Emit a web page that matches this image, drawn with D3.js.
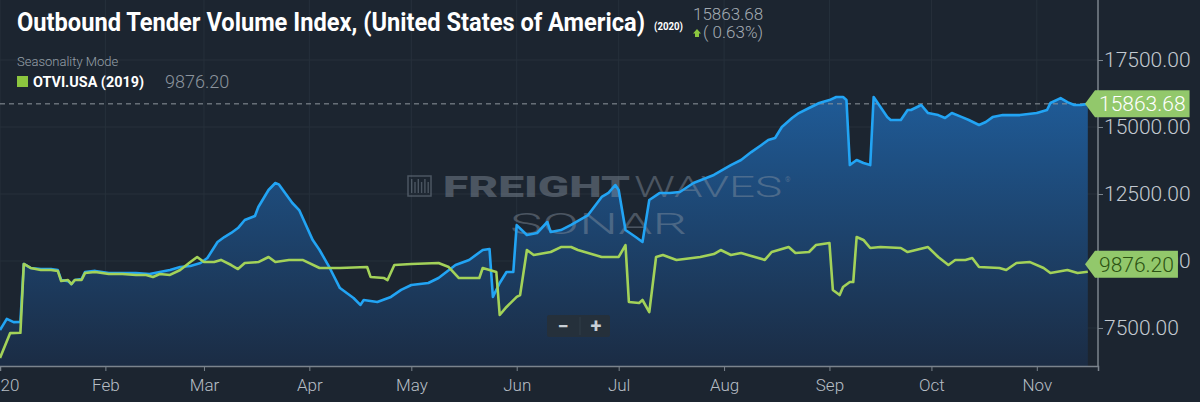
<!DOCTYPE html>
<html>
<head>
<meta charset="utf-8">
<script src="https://cdn.jsdelivr.net/npm/d3@7"></script>
<style>
  body { margin: 0; background: #1c2530; }
  svg { display: block; font-family: Roboto, "Noto Sans", sans-serif; }
</style>
</head>
<body>
<div id="chart"></div>
<script>
/* CANVAS */
const width = 1200;
const height = 402;
const plot = {left: 0, right: 1098, top: 0, bottom: 366};

/* DATA */
const dates2020 = ["01-01","01-03","01-05","01-07","01-08","01-10","01-13","01-16","01-18","01-19","01-21","01-22","01-23","01-25","01-26","01-29",
  "02-02","02-06","02-10","02-14","02-17","02-20","02-23","02-26","02-29",
  "03-02","03-05","03-07","03-09","03-11","03-13","03-16","03-17","03-20","03-22","03-23","03-27","03-29",
  "04-02","04-04","04-07","04-10","04-14","04-16","04-17","04-21","04-25","04-28",
  "05-01","05-06","05-09","05-14","05-18","05-22","05-24","05-25","05-27","05-29","05-31",
  "06-01","06-04","06-07","06-10","06-11","06-14","06-17","06-22","06-26","06-28","06-30",
  "07-01","07-03","07-06","07-08","07-10","07-13","07-16","07-19","07-23","07-29",
  "08-03","08-06","08-09","08-12","08-14","08-16","08-18","08-21","08-23","08-26","08-29",
  "09-01","09-03","09-05","09-06","09-07","09-09","09-11","09-13","09-14","09-16","09-18","09-19","09-22","09-24","09-25","09-28","09-30",
  "10-03","10-05","10-07","10-10","10-12","10-15","10-17","10-19","10-22","10-27",
  "11-01","11-04","11-05","11-08","11-10","11-12","11-14","11-16"];
const values2020 = [7425,7840,7720,7730,9890,9740,9700,9700,9660,9290,9250,9140,9290,9330,9590,9630,
  9550,9550,9550,9515,9590,9665,9775,9815,9925,
  10110,10710,10895,11045,11230,11530,11680,12015,12650,12910,12860,12165,11900,
  10780,10410,9740,8990,8620,8360,8545,8470,8660,8920,
  9105,9180,9365,9850,10040,10410,10450,8660,9180,9590,9590,
  11340,10970,11045,11455,11080,11155,11345,11715,12390,12540,12835,
  12650,11155,10895,10710,12275,12535,12535,12575,12910,13210,
  13580,13770,14065,14330,14515,14590,15000,15335,15520,15710,15895,
  16005,16120,16120,16005,13580,13770,13655,13580,16120,15745,15370,15260,15260,15635,15635,15820,15520,
  15445,15335,15520,15370,15260,15075,15185,15370,15445,15445,
  15520,15635,15895,16080,15930,15820,15820,15863.68];

const dates2019 = ["01-01","01-04","01-07","01-08","01-10","01-13","01-16","01-18","01-19","01-21","01-22","01-23","01-25","01-26","01-29",
  "02-02","02-06","02-10","02-13","02-15","02-17","02-20","02-23","02-26","02-28",
  "03-01","03-04","03-06","03-09","03-11","03-13","03-17","03-20","03-22","03-26","03-30",
  "04-04","04-10","04-18","04-19","04-23","04-24","04-26",
  "05-01","05-09","05-12","05-15","05-21","05-22","05-26","05-27","05-29",
  "06-01","06-02","06-04","06-06","06-11","06-14","06-17","06-19","06-26",
  "07-01","07-03","07-04","07-07","07-08","07-10","07-12","07-14","07-18","07-25","07-29","07-31",
  "08-03","08-06","08-08","08-13","08-15","08-20","08-22","08-26","08-28",
  "09-01","09-02","09-04","09-05","09-07","09-08","09-09","09-11","09-13","09-16","09-22","09-24","09-30",
  "10-03","10-06","10-08","10-11","10-13","10-15","10-21","10-23","10-26","10-30",
  "11-03","11-05","11-10","11-13","11-16"];
const values2019 = [6380,7310,7320,9890,9740,9665,9665,9630,9255,9290,9140,9290,9290,9550,9590,
  9515,9515,9480,9480,9405,9515,9480,9665,9960,10150,
  9960,9960,10040,9850,9700,9925,9960,10150,9960,10040,10040,
  9740,9740,9775,9405,9365,9290,9850,
  9890,9925,9775,9365,9365,9740,9590,7985,8285,
  8660,8730,10410,10225,10335,10520,10520,10410,10150,
  10150,10595,8470,8435,8545,8095,10150,10225,10040,10150,10260,10410,
  10225,10300,10225,10040,10335,10520,10300,10335,10595,
  10670,8920,8730,9030,9215,9215,10895,10785,10485,10520,10485,10335,10520,
  10150,9850,10040,10040,10110,9775,9740,9665,9925,9960,
  9740,9550,9665,9550,9600];

const yTicks = [7500, 10000, 12500, 15000, 17500];
const last2020 = 15863.68;
const last2019 = 9876.20;
const change2020 = "( 0.63%)";

const parse = d3.timeParse("%Y-%m-%d");
const series2020 = dates2020.map((d, i) => ({date: parse("2020-" + d), value: values2020[i]}));
const series2019 = dates2019.map((d, i) => ({date: parse("2020-" + d), value: values2019[i]}));

/* SCALES */
const x = d3.scaleTime()
  .domain([new Date(2020, 0, 1), new Date(2020, 10, 19)])
  .range([plot.left, plot.right]);

const y = d3.scaleLinear()
  .domain([6082, 19739])
  .range([plot.bottom, plot.top]);

/* SVG */
const svg = d3.select("#chart")
  .append("svg")
  .attr("width", width)
  .attr("height", height);

svg.append("rect").attr("width", width).attr("height", height).attr("fill", "#1c2530");

const defs = svg.append("defs");
const grad = defs.append("linearGradient")
  .attr("id", "areaGrad")
  .attr("gradientUnits", "userSpaceOnUse")
  .attr("x1", 0).attr("y1", y(16200))
  .attr("x2", 0).attr("y2", plot.bottom);
grad.append("stop").attr("offset", 0).attr("stop-color", "#1f5b97");
grad.append("stop").attr("offset", 1).attr("stop-color", "#1b2c44");

defs.append("clipPath").attr("id", "plotClip")
  .append("rect").attr("x", plot.left).attr("y", plot.top)
  .attr("width", plot.right - plot.left).attr("height", plot.bottom - plot.top);

/* GRID */
const months = x.ticks(d3.timeMonth.every(1));
svg.append("g").selectAll("line").data(months).join("line")
  .attr("x1", d => x(d)).attr("x2", d => x(d))
  .attr("y1", plot.top).attr("y2", plot.bottom)
  .attr("stroke", "#26303b").attr("stroke-width", 1);
svg.append("g").selectAll("line").data(yTicks).join("line")
  .attr("x1", plot.left).attr("x2", plot.right)
  .attr("y1", d => y(d)).attr("y2", d => y(d))
  .attr("stroke", "#26303b").attr("stroke-width", 1);

/* MARKS */
const area = d3.area()
  .x(d => x(d.date))
  .y0(plot.bottom)
  .y1(d => y(d.value));
const line = d3.line()
  .x(d => x(d.date))
  .y(d => y(d.value));

const marks = svg.append("g").attr("clip-path", "url(#plotClip)");
marks.append("path").datum(series2020)
  .attr("d", area)
  .attr("fill", "url(#areaGrad)");

/* WATERMARK (over the area, under the lines) */
const wm = svg.append("g").attr("fill", "#8c98a5").attr("opacity", 0.42);
wm.append("rect").attr("x", 408).attr("y", 176).attr("width", 23).attr("height", 20)
  .attr("fill", "none").attr("stroke", "#8c98a5").attr("stroke-width", 1.5);
d3.range(6).forEach(i => {
  wm.append("rect").attr("x", 411 + i * 3.3).attr("y", 179 + (i % 2) * 3)
    .attr("width", 1.4).attr("height", 14 - (i % 2) * 3);
});
wm.append("text").attr("x", 443).attr("y", 197)
  .attr("font-size", 29).attr("font-weight", 900)
  .attr("textLength", 187).attr("lengthAdjust", "spacingAndGlyphs")
  .text("FREIGHT");
wm.append("text").attr("x", 634).attr("y", 197)
  .attr("font-size", 29).attr("font-weight", 300)
  .attr("textLength", 148).attr("lengthAdjust", "spacingAndGlyphs")
  .text("WAVES");
wm.append("text").attr("x", 785).attr("y", 182).attr("font-size", 7).text("®");
wm.append("text").attr("x", 510).attr("y", 234)
  .attr("font-size", 30).attr("font-weight", 300)
  .attr("textLength", 177).attr("lengthAdjust", "spacingAndGlyphs")
  .text("SONAR");

// dashed level of the latest 2020 value
marks.append("line")
  .attr("x1", plot.left).attr("x2", plot.right)
  .attr("y1", y(last2020)).attr("y2", y(last2020))
  .attr("stroke", "#8f969d").attr("stroke-dasharray", "5,4").attr("stroke-width", 1);

const lines = svg.append("g").attr("clip-path", "url(#plotClip)");
lines.append("path").datum(series2020)
  .attr("d", line)
  .attr("fill", "none")
  .attr("stroke", "#22a4f4")
  .attr("stroke-width", 2.6)
  .attr("stroke-linejoin", "round");

lines.append("path").datum(series2019)
  .attr("d", line)
  .attr("fill", "none")
  .attr("stroke", "#a3d259")
  .attr("stroke-width", 2.6)
  .attr("stroke-linejoin", "round");

/* ZOOM BUTTONS */
const zb = svg.append("g");
zb.append("rect").attr("x", 547).attr("y", 315).attr("width", 63).attr("height", 22)
  .attr("fill", "#25303b").attr("rx", 2);
zb.append("line").attr("x1", 580).attr("x2", 580).attr("y1", 317).attr("y2", 335)
  .attr("stroke", "#313c48");
zb.append("text").attr("x", 563).attr("y", 333).attr("text-anchor", "middle")
  .attr("font-size", 20).attr("font-weight", 700).attr("fill", "#c8cfd6").text("−");
zb.append("text").attr("x", 596).attr("y", 333).attr("text-anchor", "middle")
  .attr("font-size", 20).attr("font-weight", 700).attr("fill", "#c8cfd6").text("+");

/* AXES */
const xAxis = svg.append("g")
  .attr("transform", `translate(0,${plot.bottom})`)
  .call(d3.axisBottom(x)
    .ticks(d3.timeMonth.every(1))
    .tickSizeOuter(0)
    .tickSize(5)
    .tickFormat(d => d.getMonth() === 0 ? d3.timeFormat("%Y")(d) : d3.timeFormat("%b")(d)));
xAxis.select(".domain").attr("stroke", "#7b848d").attr("stroke-width", 1.5);
xAxis.selectAll(".tick line").attr("stroke", "#7b848d");
xAxis.selectAll(".tick text")
  .attr("y", 13)
  .attr("font-family", "Roboto, sans-serif")
  .attr("font-size", 17)
  .attr("font-weight", 300)
  .attr("fill", "#b7bec5");

const yAxis = svg.append("g")
  .attr("transform", `translate(${plot.right},0)`)
  .call(d3.axisRight(y)
    .tickValues(yTicks)
    .tickSize(5)
    .tickSizeOuter(0)
    .tickFormat(d3.format(".2f")));
yAxis.select(".domain").attr("stroke", "#7b848d").attr("stroke-width", 1.5)
  .attr("d", `M0,${plot.top}V${plot.bottom}`);
yAxis.selectAll(".tick line").attr("stroke", "#7b848d");
yAxis.selectAll(".tick text")
  .attr("x", 6)
  .attr("font-family", "Roboto, sans-serif")
  .attr("font-size", 21)
  .attr("font-weight", 300)
  .attr("fill", "#c3cad1");

/* LAST VALUE TAGS */
function drawTag(value, textColor) {
  const cy = y(value);
  const g = svg.append("g");
  const path = g.append("path").attr("fill", "#92c86b");
  const t = g.append("text")
    .attr("x", 1099).attr("y", cy).attr("dy", "0.36em")
    .attr("font-size", 21).attr("font-weight", 300)
    .attr("fill", textColor)
    .text(d3.format(".2f")(value));
  const w = t.node().getComputedTextLength();
  const r = 1099 + w + 4;
  path.attr("d", `M1085,${cy} L1095,${cy - 13.5} L${r},${cy - 13.5} L${r},${cy + 13.5} L1095,${cy + 13.5} Z`);
}
drawTag(last2020, "#ffffff");
drawTag(last2019, "#2c5312");

/* HEADER */
svg.append("text")
  .attr("x", 17).attr("y", 31)
  .attr("font-size", 25).attr("font-weight", 700)
  .attr("fill", "#ffffff")
  .attr("textLength", 628).attr("lengthAdjust", "spacingAndGlyphs")
  .text("Outbound Tender Volume Index, (United States of America)");
svg.append("text")
  .attr("x", 654).attr("y", 30)
  .attr("font-size", 10).attr("font-weight", 700)
  .attr("fill", "#ffffff")
  .attr("textLength", 29).attr("lengthAdjust", "spacingAndGlyphs")
  .text("(2020)");
svg.append("text")
  .attr("x", 693).attr("y", 20)
  .attr("font-size", 17).attr("font-weight", 300)
  .attr("fill", "#a4acb4")
  .text(d3.format(".2f")(last2020));
svg.append("path")
  .attr("d", "M697,29 L701,33.5 L699,33.5 L699,37 L695,37 L695,33.5 L693,33.5 Z")
  .attr("fill", "#8cc63f");
svg.append("text")
  .attr("x", 703).attr("y", 38)
  .attr("font-size", 17).attr("font-weight", 300)
  .attr("fill", "#a4acb4")
  .text(change2020);

svg.append("text")
  .attr("x", 17).attr("y", 66)
  .attr("font-size", 13).attr("font-weight", 300)
  .attr("fill", "#98a1aa")
  .text("Seasonality Mode");
svg.append("rect")
  .attr("x", 17).attr("y", 76).attr("width", 11).attr("height", 11)
  .attr("fill", "#8cc63f");
svg.append("text")
  .attr("x", 33).attr("y", 87)
  .attr("font-size", 14).attr("font-weight", 700)
  .attr("fill", "#ffffff")
  .attr("textLength", 111).attr("lengthAdjust", "spacingAndGlyphs")
  .text("OTVI.USA (2019)");
svg.append("text")
  .attr("x", 165).attr("y", 88)
  .attr("font-size", 18).attr("font-weight", 300)
  .attr("fill", "#8b949d")
  .text(d3.format(".2f")(last2019));
</script>
</body>
</html>
